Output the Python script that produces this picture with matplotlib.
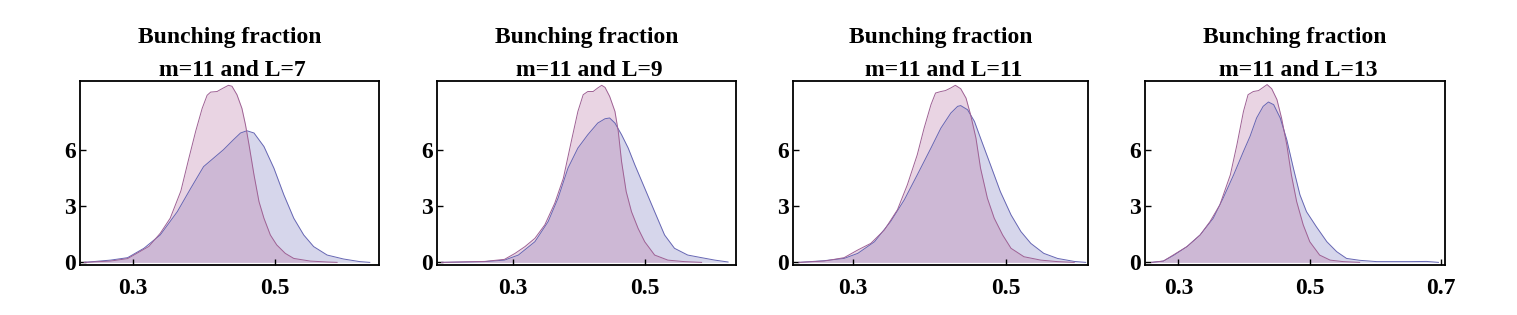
import matplotlib
matplotlib.use("Agg")
import matplotlib.pyplot as plt
import numpy as np

# panel titles (m fixed, L varies)
L_values = [7, 9, 11, 13]

# density curves: pink series and blue series per panel
x_pink_1 = [0.231, 0.268, 0.292, 0.306, 0.322, 0.338, 0.352, 0.367, 0.378, 0.388, 0.397, 0.404, 0.409,
            0.418, 0.425, 0.434, 0.439, 0.446, 0.453, 0.458, 0.463, 0.470, 0.477, 0.484, 0.493, 0.502,
            0.514, 0.526, 0.549, 0.573, 0.587]
y_pink_1 = [0.0, 0.07, 0.2, 0.5, 0.85, 1.55, 2.35, 3.8, 5.5, 7.0, 8.2, 8.9, 9.07,
            9.1, 9.25, 9.43, 9.38, 8.93, 8.2, 7.33, 6.26, 4.66, 3.24, 2.35, 1.46, 0.93,
            0.48, 0.21, 0.07, 0.02, 0.0]
x_blue_1 = [0.231, 0.268, 0.292, 0.315, 0.338, 0.362, 0.381, 0.399, 0.413, 0.427, 0.441, 0.451, 0.460,
            0.470, 0.484, 0.498, 0.512, 0.526, 0.540, 0.554, 0.573, 0.596, 0.619, 0.633]
y_blue_1 = [0.0, 0.12, 0.25, 0.75, 1.46, 2.7, 3.95, 5.1, 5.55, 6.0, 6.53, 6.89, 7.01,
            6.89, 6.17, 5.02, 3.6, 2.35, 1.46, 0.84, 0.39, 0.18, 0.04, 0.0]

x_pink_2 = [0.192, 0.257, 0.287, 0.303, 0.318, 0.333, 0.348, 0.363, 0.376, 0.388, 0.398, 0.406, 0.413,
            0.421, 0.428, 0.434, 0.439, 0.446, 0.454, 0.459, 0.464, 0.471, 0.479, 0.489, 0.499, 0.514,
            0.534, 0.559, 0.585]
y_pink_2 = [0.0, 0.05, 0.16, 0.48, 0.84, 1.28, 2.0, 3.15, 4.48, 6.44, 8.04, 8.93, 9.1,
            9.1, 9.29, 9.43, 9.32, 8.84, 8.04, 6.98, 5.37, 3.77, 2.7, 1.81, 1.1, 0.39,
            0.12, 0.04, 0.0]
x_blue_2 = [0.192, 0.257, 0.287, 0.308, 0.333, 0.353, 0.368, 0.383, 0.398, 0.413, 0.428, 0.439, 0.446,
            0.454, 0.464, 0.474, 0.484, 0.499, 0.514, 0.529, 0.544, 0.564, 0.585, 0.605, 0.625]
y_blue_2 = [0.0, 0.04, 0.12, 0.39, 1.1, 2.17, 3.42, 5.02, 6.09, 6.8, 7.42, 7.65, 7.69,
            7.42, 6.8, 6.09, 5.2, 3.95, 2.7, 1.46, 0.75, 0.39, 0.25, 0.12, 0.02]

x_pink_3 = [0.229, 0.262, 0.288, 0.306, 0.323, 0.341, 0.358, 0.371, 0.384, 0.393, 0.402, 0.408, 0.415,
            0.421, 0.428, 0.434, 0.441, 0.448, 0.454, 0.461, 0.467, 0.476, 0.485, 0.496, 0.507, 0.524,
            0.546, 0.568, 0.590]
y_pink_3 = [0.0, 0.07, 0.25, 0.66, 1.01, 1.73, 2.8, 4.13, 5.73, 7.15, 8.4, 9.02, 9.1,
            9.15, 9.29, 9.43, 9.25, 8.75, 7.86, 6.62, 5.02, 3.42, 2.35, 1.46, 0.75, 0.3,
            0.12, 0.04, 0.0]
x_blue_3 = [0.229, 0.262, 0.288, 0.306, 0.328, 0.349, 0.367, 0.384, 0.402, 0.415, 0.428, 0.437, 0.441,
            0.450, 0.459, 0.467, 0.480, 0.493, 0.507, 0.520, 0.533, 0.550, 0.568, 0.590, 0.605]
y_blue_3 = [0.0, 0.09, 0.21, 0.48, 1.1, 2.17, 3.33, 4.66, 6.09, 7.15, 7.95, 8.31, 8.35,
            8.13, 7.51, 6.62, 5.2, 3.77, 2.53, 1.64, 1.01, 0.48, 0.21, 0.05, 0.0]

x_pink_4 = [0.259, 0.277, 0.292, 0.313, 0.333, 0.348, 0.363, 0.379, 0.389, 0.399, 0.406, 0.414, 0.422,
            0.429, 0.435, 0.442, 0.450, 0.457, 0.465, 0.472, 0.480, 0.490, 0.500, 0.515, 0.531, 0.551,
            0.576]
y_pink_4 = [0.0, 0.07, 0.39, 0.84, 1.46, 2.17, 3.06, 4.66, 6.26, 8.04, 8.93, 9.1, 9.15,
            9.32, 9.47, 9.25, 8.67, 7.69, 6.26, 4.66, 3.24, 2.0, 1.1, 0.39, 0.12, 0.04,
            0.0]
x_blue_4 = [0.259, 0.277, 0.292, 0.313, 0.333, 0.353, 0.368, 0.384, 0.399, 0.409, 0.419, 0.429, 0.437,
            0.445, 0.455, 0.465, 0.475, 0.485, 0.495, 0.510, 0.526, 0.541, 0.556, 0.576, 0.602, 0.652,
            0.678, 0.696]
y_blue_4 = [0.0, 0.07, 0.36, 0.84, 1.46, 2.35, 3.42, 4.66, 5.91, 6.71, 7.69, 8.31, 8.54,
            8.4, 7.69, 6.53, 5.02, 3.6, 2.7, 1.9, 1.1, 0.57, 0.21, 0.11, 0.04, 0.04,
            0.05, 0.0]

pink_x = [x_pink_1, x_pink_2, x_pink_3, x_pink_4]
pink_y = [y_pink_1, y_pink_2, y_pink_3, y_pink_4]
blue_x = [x_blue_1, x_blue_2, x_blue_3, x_blue_4]
blue_y = [y_blue_1, y_blue_2, y_blue_3, y_blue_4]

xlims = [(0.225, 0.646), (0.185, 0.637), (0.221, 0.608), (0.249, 0.706)]
xticks = [[0.3, 0.5], [0.3, 0.5], [0.3, 0.5], [0.3, 0.5, 0.7]]

# axes rectangles in pixels (left, width) -- figure is 1517x315
W, H = 1517, 315
lefts = [80, 437, 793, 1145]
widths = [299, 299, 295, 300]

plt.rcParams['font.family'] = ['Liberation Serif', 'DejaVu Serif']
plt.rcParams['font.weight'] = 'bold'

fig = plt.figure(figsize=(W / 100, H / 100), dpi=100)

pink_fill = (0.725, 0.45, 0.647)
blue_fill = (0.477, 0.477, 0.752)
pink_edge = (0.62, 0.38, 0.58)
blue_edge = (0.40, 0.40, 0.70)

for i in range(4):
    ax = fig.add_axes([lefts[i] / W, 50 / H, widths[i] / W, 184 / H])
    # blue first, pink on top
    ax.fill_between(blue_x[i], blue_y[i], 0, color=blue_fill, alpha=0.3, lw=0)
    ax.plot(blue_x[i], blue_y[i], color=blue_edge, lw=0.7)
    ax.fill_between(pink_x[i], pink_y[i], 0, color=pink_fill, alpha=0.3, lw=0)
    ax.plot(pink_x[i], pink_y[i], color=pink_edge, lw=0.7)

    ax.set_xlim(*xlims[i])
    ax.set_ylim(-0.14, 9.66)
    ax.set_xticks(xticks[i])
    ax.set_xticklabels([str(t) for t in xticks[i]])
    ax.set_yticks([0, 3, 6])
    ax.tick_params(direction='in', length=4, width=1, labelsize=17)
    ax.tick_params(axis='x', pad=9)
    ax.tick_params(axis='y', pad=3)
    for lab in ax.get_xticklabels() + ax.get_yticklabels():
        lab.set_fontweight('bold')
    for sp in ax.spines.values():
        sp.set_linewidth(1.3)
    ax.set_title('Bunching fraction\n m=11 and L=%d' % L_values[i],
                 fontsize=17, fontweight='bold', pad=2, linespacing=1.75)

fig.savefig('out.png', dpi=100)
